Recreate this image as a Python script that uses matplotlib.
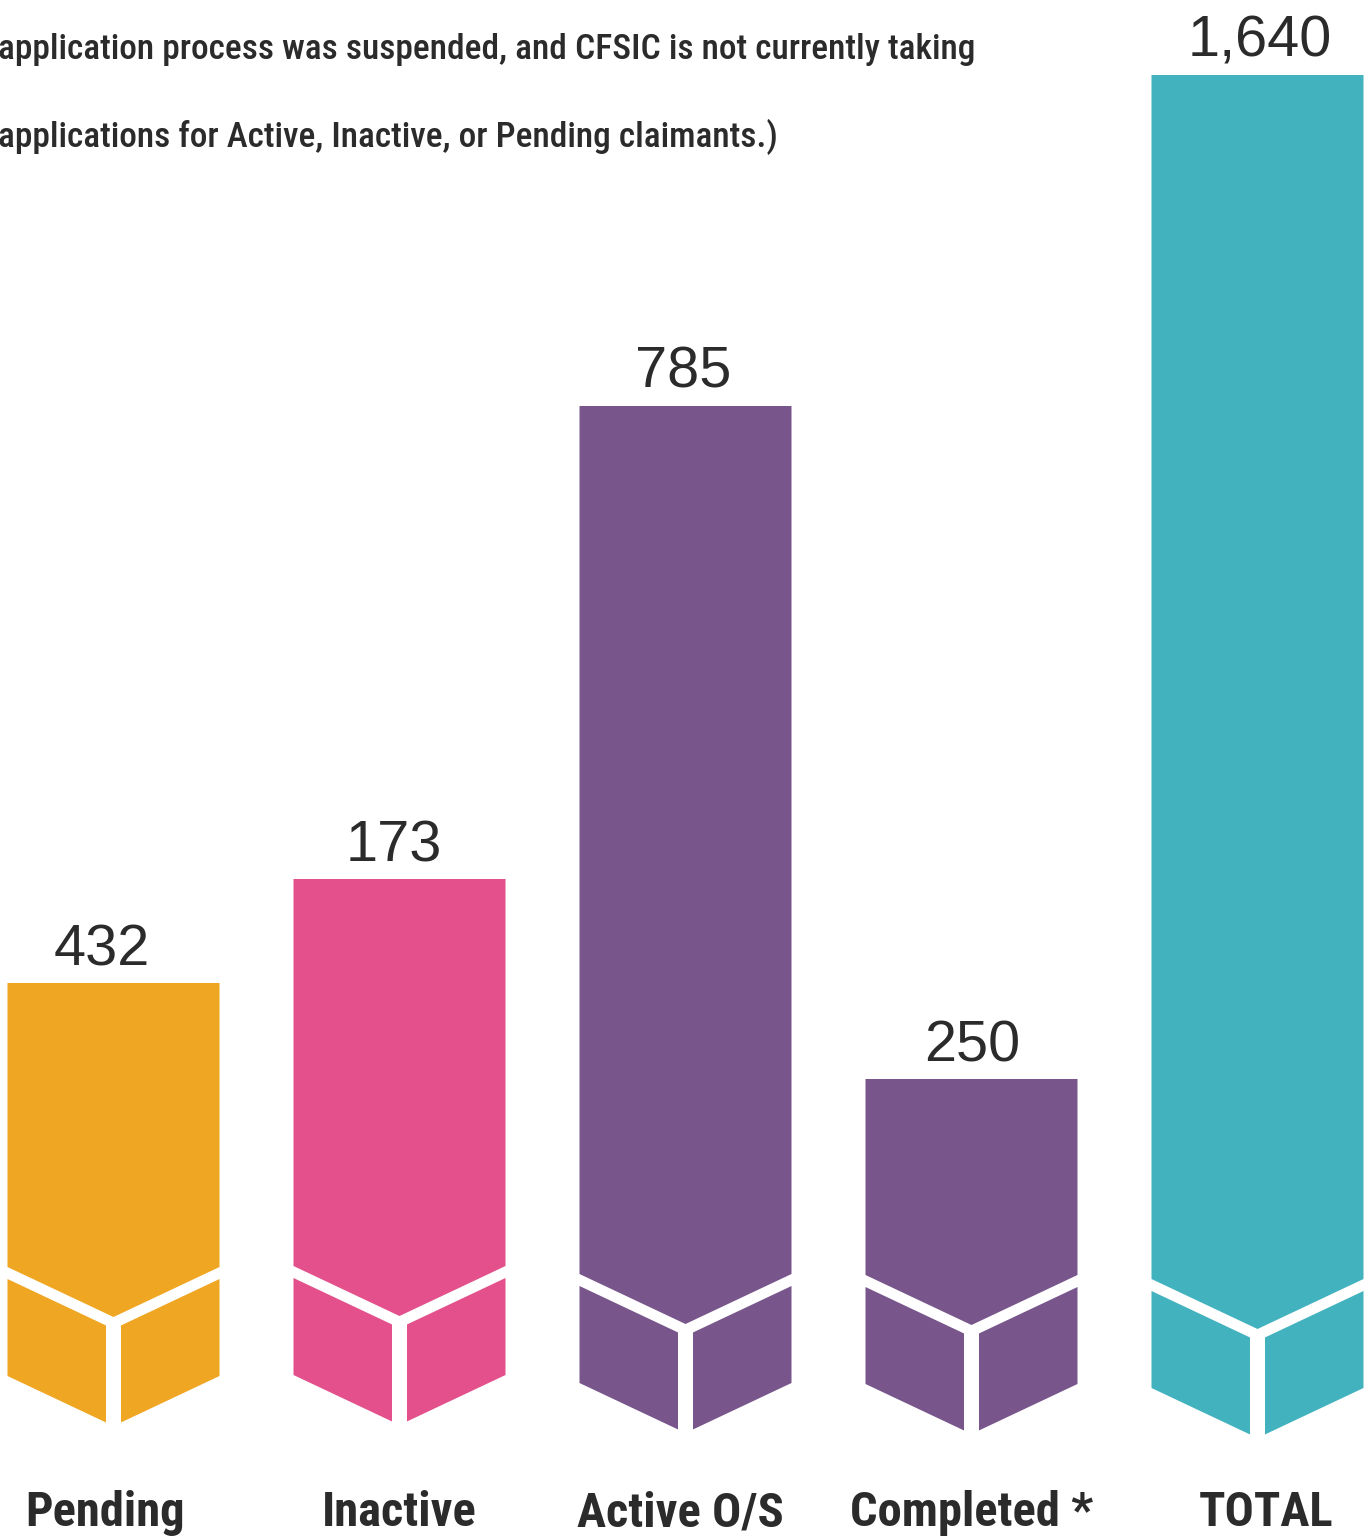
import matplotlib
matplotlib.use("Agg")
import matplotlib.pyplot as plt
from matplotlib.patches import Polygon

# data read from the infographic
categories = ["Pending", "Inactive", "Active O/S", "Completed *", "TOTAL"]
values = [432, 173, 785, 250, 1640]
# drawn column heights (the infographic does not scale them to the values)
bar_heights = [555, 659, 1132, 459, 1463]
colors = ["#EFA622", "#E3508B", "#78568C", "#78568C", "#42B2BE"]
note_lines = ["application process was suspended, and CFSIC is not currently taking",
              "applications for Active, Inactive, or Pending claimants.)"]

# layout (pixel-like units, y measured up from the bottom of the figure)
W, H = 1370, 1538
STEP = 286.0                      # px between column centres
X0 = 113.5                        # px centre of the first column
HALF = 106 / STEP                 # half column width in x units
GAP = 7.5 / STEP                  # half of the vertical white seam
cube_base = [271, 272, 264, 263, 259]
V_DEPTH, BAND, FACE = 50, 12, 97
value_dx = [-12, -6, -2, 1, 2]    # px nudges of the number labels
label_dx = [-8, 0, -5, 0, 9]      # px nudges of the category labels

NARROW = ["Roboto Condensed", "Liberation Sans Narrow", "Roboto", "DejaVu Sans"]
DARK = "#2b2b2b"

fig = plt.figure(figsize=(W / 100, H / 100), dpi=100)
ax = fig.add_axes([0, 0, 1, 1])
ax.set_xlim(-X0 / STEP, (W - X0) / STEP)
ax.set_ylim(0, H)
ax.axis("off")

inner_drop = V_DEPTH * (HALF - GAP) / HALF
for i, (h, c, b) in enumerate(zip(bar_heights, colors, cube_base)):
    # column with a V-shaped lower edge
    ax.add_patch(Polygon([(i - HALF, h), (i + HALF, h), (i + HALF, b),
                          (i, b - V_DEPTH), (i - HALF, b)], closed=True, fc=c, ec="none"))
    # two lower faces of the cube
    for s in (-1, 1):
        top_out = b - BAND
        top_in = b - BAND - inner_drop
        ax.add_patch(Polygon([(i + s * HALF, top_out), (i + s * GAP, top_in),
                              (i + s * GAP, top_in - FACE), (i + s * HALF, top_out - FACE)],
                             closed=True, fc=c, ec="none"))
    ax.text(i + value_dx[i] / STEP, h + 18, f"{values[i]:,}", ha="center", va="baseline",
            fontsize=41.5, color=DARK, family=["Liberation Sans", "DejaVu Sans"])
    ax.text(i + label_dx[i] / STEP, 12, categories[i], ha="center", va="baseline",
            fontsize=35, color=DARK, family=NARROW, fontweight="bold",
            fontstretch="condensed")

for line, y in zip(note_lines, (59, 147)):
    fig.text(-2 / W, 1 - y / H, line, ha="left", va="baseline",
             fontsize=25.5, color=DARK, family=NARROW, fontweight="medium",
             fontstretch="condensed")

fig.savefig("out.png", dpi=100)
